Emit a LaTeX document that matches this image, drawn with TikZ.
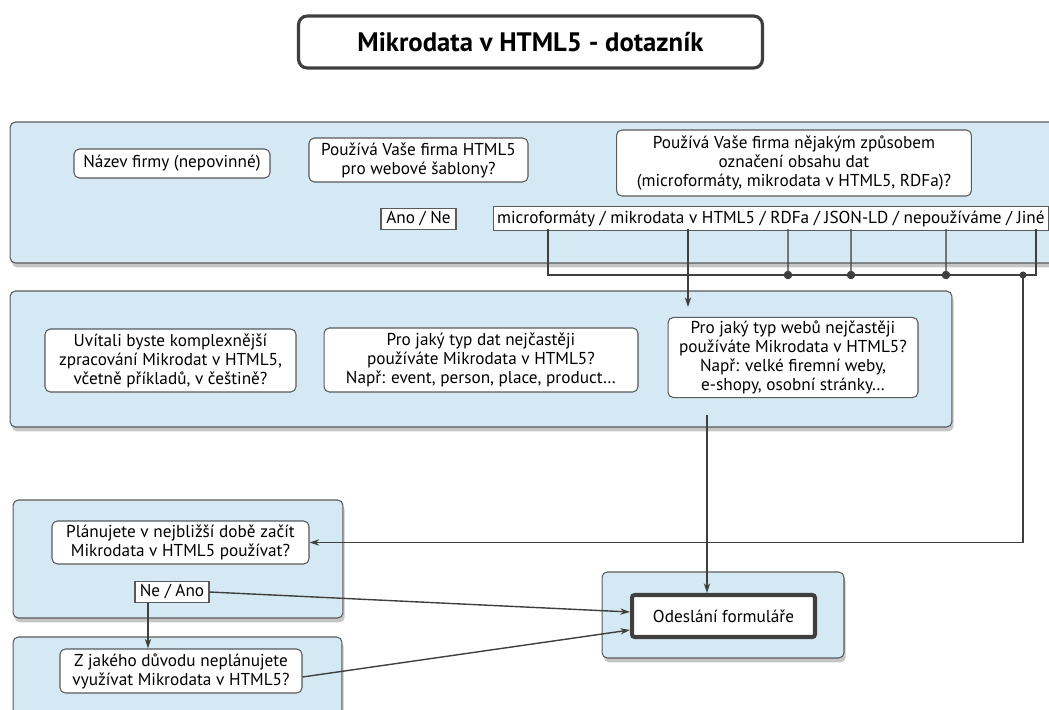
\documentclass[tikz,border=0pt]{standalone}
\usepackage{fontspec}
\setmainfont{PT Sans}
\usepackage{xcolor}
\usetikzlibrary{arrows.meta,positioning,shadows}
\definecolor{grpblue}{HTML}{D5E9F5}
\definecolor{edgegray}{HTML}{5A5A5A}
\definecolor{linegray}{HTML}{3F3F3F}

\begin{document}
\begin{tikzpicture}[
  x=0.02cm, y=-0.02cm,
  font=\fontsize{9.8}{10.8}\selectfont,
  group/.style={draw=edgegray, fill=grpblue, rounded corners=3pt, line width=0.6pt,
    drop shadow={shadow xshift=1pt, shadow yshift=-2.5pt, opacity=0.45}},
  qbox/.style={draw=edgegray, fill=white, rounded corners=3pt, align=center, inner sep=2pt, line width=0.6pt},
  answer/.style={draw=edgegray, fill=white, inner sep=2pt, minimum height=0.42cm, line width=0.6pt},
  line/.style={draw=linegray, line width=0.8pt},
  arrow/.style={line, -{Stealth[length=5.5pt, width=3.6pt]}}
]
\useasboundingbox (0,0) rectangle (1049,710);

\node[draw=linegray, line width=1.8pt, rounded corners=5pt, fill=white, minimum width=9.28cm, minimum height=1.04cm,
  font=\fontsize{15.2}{17}\selectfont\bfseries] (titul) at (530.5,42) {Mikrodata v HTML5 - dotazník};

\node[group, minimum width=21.1cm, minimum height=2.82cm] (firma) at (537.5,192.5) {};
\node[group, minimum width=18.84cm, minimum height=2.72cm] (pouziti) at (481,359) {};
\node[group, minimum width=6.6cm, minimum height=2.36cm] (plan) at (178,559) {};
\node[group, minimum width=6.58cm, minimum height=1.96cm] (duvodgrp) at (177.5,686) {};
\node[group, minimum width=4.84cm, minimum height=1.72cm] (odeslgrp) at (723,615) {};

\node[qbox, minimum width=3.92cm, minimum height=0.58cm] (nazev) at (172,163.5) {Název firmy (nepovinné)};
\node[qbox, minimum width=4.38cm, minimum height=0.88cm] (sablony) at (418.5,160) {Používá Vaše firma HTML5\\pro webové šablony?};
\node[answer, minimum width=1.5cm, below=0.5cm of sablony] (anone) {Ano / Ne};
\node[qbox, minimum width=7.1cm, minimum height=1.32cm] (oznaceni) at (794,163) {Používá Vaše firma nějakým způsobem\\označení obsahu dat\\(microformáty, mikrodata v HTML5, RDFa)?};
\node[answer, anchor=west] (odpovedi) at (493,218.5) {microformáty / mikrodata v HTML5 / RDFa / JSON-LD / nepoužíváme / Jiné};

\node[qbox, minimum width=5.02cm, minimum height=1.26cm] (uvitali) at (170.5,360.5) {Uvítali byste komplexnější\\zpracování Mikrodat v HTML5,\\včetně příkladů, v češtině?};
\node[qbox, minimum width=6.28cm, minimum height=1.28cm] (typdat) at (481,360) {Pro jaký typ dat nejčastěji\\používáte Mikrodata v HTML5?\\Např: event, person, place, product…};
\node[qbox, minimum width=5cm, minimum height=1.58cm] (typweb) at (793,357.5) {Pro jaký typ webů nejčastěji\\používáte Mikrodata v HTML5?\\Např: velké firemní weby,\\e-shopy, osobní stránky…};

\node[qbox, minimum width=5.14cm, minimum height=0.86cm] (planujete) at (180.5,542.5) {Plánujete v nejbližší době začít\\Mikrodata v HTML5 používat?};
\node[answer, minimum width=1.48cm, minimum height=0.4cm] (neano) at (172,592) {Ne / Ano};
\node[qbox, minimum width=4.84cm, minimum height=0.88cm] (duvod) at (181,671) {Z jakého důvodu neplánujete\\využívat Mikrodata v HTML5?};
\node[draw=linegray, line width=2.3pt, fill=white, rounded corners=1.5pt, minimum width=3.66cm, minimum height=0.84cm] (odeslani) at (723.5,616) {Odeslání formuláře};

\coordinate (o1) at (548,229);
\coordinate (o2) at (688,229);
\coordinate (o3) at (788,229);
\coordinate (o4) at (851,229);
\coordinate (o5) at (946,229);
\coordinate (o6) at (1036,229);
\coordinate (sber) at (1023,275);
\coordinate (mikroin) at (688,307);
\coordinate (webout) at (707,415);
\coordinate (nedolu) at ([xshift=-0.48cm]neano.south);

\draw[line] (o1) |- (o6 |- sber) -- (o6);
\foreach \o in {o3,o4,o5}
  \draw[line] (\o) -- (\o |- sber) [fill=linegray] circle (2pt);
\fill[linegray] (sber) circle (2pt);
\draw[arrow] (sber) |- (planujete.east);
\draw[arrow] (o2) -- (mikroin);
\draw[arrow] (webout) -- (webout |- odeslani.north);
\draw[arrow] (neano.east) -- ([yshift=0.08cm]odeslani.west);
\draw[arrow] (nedolu) -- (nedolu |- duvod.north);
\draw[arrow] ([yshift=-0.12cm]duvod.east) -- ([yshift=-0.28cm]odeslani.west);
\end{tikzpicture}
\end{document}
